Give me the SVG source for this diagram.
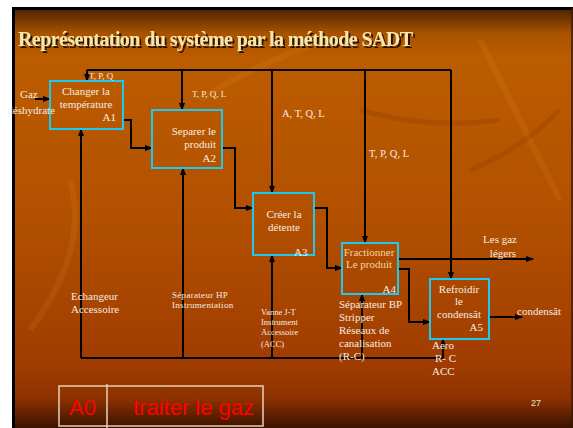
<svg xmlns="http://www.w3.org/2000/svg" width="573" height="428" viewBox="0 0 573 428">
<defs>
<linearGradient id="bg" x1="0" y1="8" x2="0" y2="428" gradientUnits="userSpaceOnUse">
<stop offset="0" stop-color="#4a2200"/>
<stop offset="0.06" stop-color="#a85200"/>
<stop offset="0.12" stop-color="#bc5c00"/>
<stop offset="0.5" stop-color="#b25000"/>
<stop offset="0.85" stop-color="#a03c00"/>
<stop offset="0.93" stop-color="#8c3200"/>
<stop offset="1" stop-color="#3c1200"/>
</linearGradient>
<marker id="ah" markerWidth="8" markerHeight="6" refX="7" refY="3" orient="auto" markerUnits="userSpaceOnUse">
<path d="M0,0 L8,3 L0,6 z" fill="#000"/>
</marker>
<filter id="sh" x="-5%" y="-20%" width="110%" height="150%">
<feOffset in="SourceAlpha" dx="1.5" dy="1.5" result="o"/>
<feFlood flood-color="#2a1200"/>
<feComposite in2="o" operator="in" result="s"/>
<feMerge><feMergeNode in="s"/><feMergeNode in="SourceGraphic"/></feMerge>
</filter>
</defs>
<style>
.ln{fill:none;stroke:#000;stroke-width:2}
.ar{fill:none;stroke:#000;stroke-width:2;marker-end:url(#ah)}
.box{fill:none;stroke:#1ec8f0;stroke-width:2}
.t{font-family:'Liberation Serif','Times New Roman',serif;fill:#f4ece0;font-size:11px}
.s9{font-size:9px}
.s85{font-size:8.5px}
.hp{font-size:9px;letter-spacing:0.3px}
.s105{font-size:10.5px}
.c{text-anchor:middle}
.e{text-anchor:end}
.y{fill:#f2d8a0}
.red{font-family:'Liberation Sans',Arial,sans-serif;font-size:22px;fill:#ff0000}
</style>
<rect x="0" y="0" width="573" height="428" fill="#ffffff"/>
<rect x="13" y="8" width="560" height="420" fill="url(#bg)"/>
<g opacity="0.12" fill="none" stroke="#f0a030" stroke-width="6">
<path d="M30,330 Q90,250 70,180"/>
<path d="M200,100 Q260,60 330,40"/>
<path d="M480,40 Q520,120 560,200"/>
</g>
<g opacity="0.15" fill="none" stroke="#6a2200" stroke-width="5">
<path d="M360,110 Q430,130 500,120"/>
<path d="M470,170 Q520,150 560,110"/>
</g>
<path d="M13.5,428 V8.5 H573" fill="none" stroke="#000" stroke-width="3"/>
<line x1="572" y1="8" x2="572" y2="428" stroke="#3a1a00" stroke-width="1.5"/>
<text x="18" y="46" font-family="Liberation Serif,serif" font-size="20" font-weight="bold" fill="#f8e6a8" textLength="395" filter="url(#sh)">Représentation du système par la méthode SADT</text>

<g id="connectors">
<polyline class="ln" points="87,70 451,70"/>
<line class="ar" x1="87" y1="70" x2="87" y2="81"/>
<line class="ar" x1="182" y1="70" x2="182" y2="110"/>
<line class="ar" x1="272" y1="70" x2="272" y2="193"/>
<line class="ar" x1="365" y1="70" x2="365" y2="243"/>
<line class="ar" x1="451" y1="70" x2="451" y2="279"/>
<line class="ar" x1="35" y1="99" x2="50" y2="99"/>
<polyline class="ar" points="123,120 131,120 131,148 152,148"/>
<polyline class="ar" points="222,148 235,148 235,208 253,208"/>
<polyline class="ar" points="314,208 327,208 327,268 342,268"/>
<line class="ar" x1="398" y1="259" x2="533" y2="259"/>
<polyline class="ar" points="398,269 409,269 409,322 430,322"/>
<line class="ar" x1="489" y1="317" x2="522" y2="317"/>
<polyline class="ln" points="81,358 443,358"/>
<line class="ar" x1="81" y1="358" x2="81" y2="129"/>
<line class="ar" x1="183" y1="358" x2="183" y2="168"/>
<line class="ar" x1="272" y1="358" x2="272" y2="255"/>
<line class="ar" x1="362" y1="358" x2="362" y2="294"/>
<line class="ar" x1="443" y1="358" x2="443" y2="339"/>
</g>

<g id="A1">
<rect class="box" x="50" y="81" width="73" height="48"/>
<text class="t c" x="86" y="95">Changer la</text>
<text class="t c" x="86" y="108">température</text>
<text class="t e" x="116" y="121">A1</text>
</g>
<g id="A2">
<rect class="box" x="152" y="110" width="70" height="58"/>
<text class="t e" x="216" y="135">Separer le</text>
<text class="t e" x="216" y="148">produit</text>
<text class="t e" x="216" y="162">A2</text>
</g>
<g id="A3">
<rect class="box" x="253" y="193" width="61" height="62"/>
<text class="t c" x="284" y="218">Créer la</text>
<text class="t c" x="284" y="231">détente</text>
<text class="t" x="294" y="256">A3</text>
</g>
<g id="A4">
<rect class="box" x="342" y="243" width="56" height="51"/>
<text class="t c y" x="369" y="256">Fractionner</text>
<text class="t c y" x="369" y="268">Le produit</text>
<text class="t e" x="396" y="293">A4</text>
</g>
<g id="A5">
<rect class="box" x="430" y="279" width="59" height="60"/>
<text class="t c" x="459" y="293">Refroidir</text>
<text class="t c" x="459" y="305">le</text>
<text class="t c" x="459" y="318">condensât</text>
<text class="t e" x="483" y="331">A5</text>
</g>

<g id="labels">
<text class="t" x="20" y="98">Gaz</text>
<text class="t e" x="55" y="114">déshydrate</text>
<text class="t s9" x="89" y="79">T, P, Q</text>
<text class="t s9" x="192" y="97">T, P, Q, L</text>
<text class="t s105" x="282" y="117">A, T, Q, L</text>
<text class="t s105" x="369" y="157">T, P, Q, L</text>
<text class="t c" x="500" y="243">Les gaz</text>
<text class="t c" x="503" y="257">légers</text>
<text class="t" x="517" y="315">condensât</text>
<text class="t" x="71" y="300">Echangeur</text>
<text class="t" x="71" y="313">Accessoire</text>
<text class="t hp" x="172" y="298">Séparateur HP</text>
<text class="t hp" x="172" y="308">Instrumentation</text>
<text class="t s85" x="261" y="315">Vanne J-T</text>
<text class="t s85" x="261" y="325">Instrument</text>
<text class="t s85" x="261" y="335">Accessoire</text>
<text class="t s85" x="261" y="347">(ACC)</text>
<text class="t" x="339" y="308">Séparateur BP</text>
<text class="t" x="339" y="321">Stripper</text>
<text class="t" x="339" y="334">Réseaux de</text>
<text class="t" x="339" y="347">canalisation</text>
<text class="t" x="339" y="360">(R-C)</text>
<text class="t" x="432" y="349">Aero</text>
<text class="t" x="435" y="362">R- C</text>
<text class="t" x="432" y="375">ACC</text>
<text x="531" y="406" font-family="Liberation Sans,Arial,sans-serif" font-size="9" fill="#f0e0d0">27</text>
</g>

<g id="A0">
<rect x="59" y="386" width="204" height="40" fill="none" stroke="#e8d0b8" stroke-width="1.5"/>
<line x1="107" y1="384" x2="107" y2="428" stroke="#e8d0b8" stroke-width="1.5"/>
<text class="red" x="69" y="415">A0</text>
<text class="red" x="133" y="415">traiter le gaz</text>
</g>
</svg>
